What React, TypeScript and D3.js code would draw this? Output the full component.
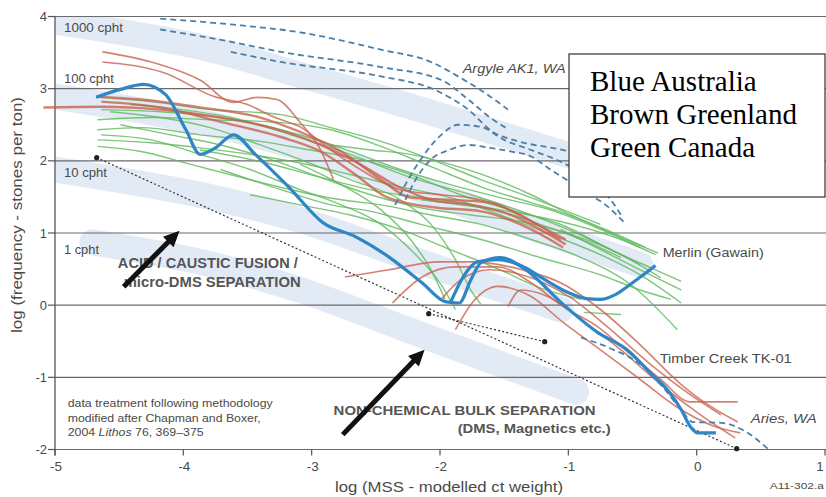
import React from 'react';
import * as d3 from 'd3';

type Pt = [number, number];

const W = 826;
const H = 497;

const xTicks = [-5, -4, -3, -2, -1, 0, 1];
const yTicks = [-2, -1, 0, 1, 2, 3, 4];

// Australia (blue, solid)
const australiaMain: Pt[] = [
  [-4.68, 2.88], [-4.49, 2.99], [-4.31, 3.06], [-4.14, 2.92], [-3.98, 2.43], [-3.87, 2.09],
  [-3.75, 2.18], [-3.61, 2.36], [-3.44, 2.09], [-3.18, 1.64], [-2.91, 1.14], [-2.66, 0.95],
  [-2.40, 0.67], [-2.14, 0.31], [-1.96, 0.05], [-1.85, 0.03], [-1.76, 0.35], [-1.68, 0.59],
  [-1.53, 0.66], [-1.33, 0.49], [-1.04, 0.01], [-0.77, -0.38], [-0.54, -0.62], [-0.36, -0.94],
  [-0.23, -1.17], [-0.12, -1.45], [-0.05, -1.68], [0.01, -1.77], [0.15, -1.77],
];
const australiaMerlin: Pt[] = [
  [-1.92, 0.03], [-1.82, 0.39], [-1.71, 0.60], [-1.55, 0.63], [-1.37, 0.55], [-1.18, 0.35],
  [-1.02, 0.19], [-0.86, 0.09], [-0.75, 0.08], [-0.63, 0.15], [-0.50, 0.31], [-0.32, 0.55],
];

// Australia (blue, dashed): Argyle AK1 and Aries
const argyleDashed: Pt[][] = [
  [[-4.18, 3.97], [-3.63, 3.89], [-3.09, 3.78], [-2.46, 3.54], [-2.07, 3.37], [-1.84, 3.15], [-1.64, 2.93], [-1.47, 2.71]],
  [[-4.18, 3.82], [-3.63, 3.65], [-3.24, 3.51], [-2.46, 3.30], [-1.99, 3.12], [-1.78, 2.85], [-1.61, 2.60], [-1.49, 2.46]],
  [[-3.63, 3.51], [-3.24, 3.37], [-2.46, 3.17], [-2.05, 2.99], [-1.78, 2.71], [-1.58, 2.39], [-1.43, 2.29], [-1.04, 2.15], [-0.75, 2.02], [-0.59, 1.92]],
  [[-2.35, 1.39], [-2.27, 1.67], [-2.15, 2.02], [-1.99, 2.36], [-1.86, 2.50], [-1.68, 2.47], [-1.50, 2.29], [-1.29, 2.15], [-1.04, 1.97], [-0.83, 1.74], [-0.67, 1.46], [-0.59, 1.25]],
  [[-2.27, 1.46], [-2.19, 1.74], [-2.07, 2.02], [-1.93, 2.15], [-1.78, 2.22], [-1.61, 2.18], [-1.45, 2.13], [-1.29, 2.06], [-1.14, 1.88], [-0.98, 1.70], [-0.83, 1.53], [-0.71, 1.39], [-0.55, 1.12]],
];
const ariesDashed: Pt[] = [
  [-0.90, -0.45], [-0.67, -0.60], [-0.44, -0.82], [-0.28, -1.10], [-0.12, -1.45], [-0.03, -1.62],
  [0.19, -1.63], [0.38, -1.75], [0.56, -2.0],
];

// Greenland (brown)
const greenland: Pt[][] = [
  [[-4.63, 3.51], [-4.25, 3.37], [-3.87, 3.12], [-3.61, 2.81], [-3.42, 2.88], [-3.27, 2.85], [-3.09, 2.53], [-2.93, 2.15], [-2.83, 1.74]],
  [[-4.63, 3.37], [-4.15, 3.22], [-3.76, 2.89], [-3.50, 2.78], [-3.30, 2.61], [-3.09, 2.47], [-2.85, 2.15], [-2.62, 1.88], [-2.31, 1.60], [-1.99, 1.53], [-1.68, 1.46], [-1.37, 1.25], [-1.06, 0.91]],
  [[-5.09, 2.74], [-4.64, 2.75], [-4.18, 2.71], [-3.71, 2.60], [-3.32, 2.46], [-2.93, 2.22], [-2.62, 1.95], [-2.31, 1.63], [-2.07, 1.46], [-1.76, 1.39], [-1.45, 1.25], [-1.22, 1.05], [-1.02, 0.84]],
  [[-4.68, 2.89], [-4.33, 2.85], [-3.87, 2.74], [-3.40, 2.60], [-3.09, 2.40], [-2.77, 2.13], [-2.46, 1.74], [-2.23, 1.49], [-1.92, 1.46], [-1.61, 1.42], [-1.29, 1.16], [-1.02, 0.91]],
  [[-4.64, 2.82], [-4.18, 2.74], [-3.71, 2.54], [-3.24, 2.33], [-2.93, 2.13], [-2.66, 1.81], [-2.42, 1.50], [-2.07, 1.36], [-1.68, 1.30], [-1.29, 1.05], [-1.04, 0.80]],
  [[-2.74, 0.39], [-2.40, 0.49], [-2.01, 0.60], [-1.75, 0.60], [-1.36, 0.49], [-1.06, 0.31], [-0.75, -0.06], [-0.44, -0.55], [-0.12, -1.10], [0.03, -1.31], [0.32, -1.62]],
  [[-2.37, 0.03], [-2.14, 0.39], [-1.88, 0.53], [-1.55, 0.53], [-1.29, 0.31], [-1.04, -0.02], [-0.77, -0.30], [-0.51, -0.69], [-0.28, -1.03], [-0.05, -1.34], [0.32, -1.34]],
  [[-1.88, -0.34], [-1.75, 0.03], [-1.55, 0.26], [-1.29, 0.12], [-1.04, -0.24], [-0.75, -0.62], [-0.44, -1.03], [-0.12, -1.45], [0.11, -1.66], [0.34, -1.77]],
  [[-1.47, -0.02], [-1.37, 0.21], [-1.16, 0.12], [-0.90, -0.20], [-0.59, -0.62], [-0.28, -1.10], [0.03, -1.52], [0.30, -1.84]],
  [[-1.99, 0.08], [-1.84, 0.35], [-1.61, 0.49], [-1.29, 0.38], [-0.98, 0.10], [-0.67, -0.34], [-0.36, -0.82], [-0.05, -1.24], [0.19, -1.52]],
];

// Canada (green)
const canada: Pt[][] = [
  [[-4.67, 2.88], [-4.25, 2.82], [-3.79, 2.71], [-3.24, 2.64], [-2.85, 2.46], [-2.46, 2.27], [-2.07, 2.02], [-1.68, 1.74], [-1.29, 1.49], [-1.04, 1.32], [-0.75, 1.12]],
  [[-4.67, 2.57], [-4.25, 2.60], [-3.79, 2.57], [-3.24, 2.53], [-2.85, 2.43], [-2.46, 2.20], [-2.07, 1.92], [-1.68, 1.64], [-1.29, 1.42], [-1.04, 1.28], [-0.59, 0.94], [-0.30, 0.72]],
  [[-4.67, 2.43], [-4.33, 2.46], [-3.87, 2.36], [-3.40, 2.27], [-3.01, 2.15], [-2.62, 2.02], [-2.23, 1.81], [-1.84, 1.53], [-1.45, 1.32], [-1.06, 1.12], [-0.67, 0.77], [-0.36, 0.52], [-0.12, 0.33]],
  [[-4.67, 2.29], [-4.25, 2.25], [-3.87, 2.18], [-3.48, 2.09], [-3.09, 1.97], [-2.70, 1.81], [-2.31, 1.64], [-1.92, 1.49], [-1.53, 1.25], [-1.14, 0.98], [-0.75, 0.70], [-0.44, 0.42], [-0.12, 0.03]],
  [[-4.67, 2.20], [-4.33, 2.13], [-3.94, 1.95], [-3.55, 1.77], [-3.16, 1.60], [-2.77, 1.46], [-2.46, 1.39], [-2.07, 1.25], [-1.68, 1.12], [-1.29, 0.91], [-0.90, 0.66], [-0.51, 0.28], [-0.15, -0.34]],
  [[-4.57, 2.68], [-4.18, 2.60], [-3.79, 2.46], [-3.40, 2.22], [-3.09, 2.02], [-2.70, 1.74], [-2.31, 1.46], [-2.07, 1.12], [-1.88, 0.63], [-1.76, 0.21], [-1.68, 0.01]],
  [[-4.64, 2.36], [-4.25, 2.29], [-3.87, 2.09], [-3.48, 1.88], [-3.09, 1.60], [-2.77, 1.39], [-2.46, 1.12], [-2.23, 0.77], [-1.99, 0.28], [-1.88, -0.06]],
  [[-4.49, 2.50], [-4.10, 2.36], [-3.71, 2.22], [-3.32, 2.02], [-2.93, 1.77], [-2.54, 1.53], [-2.15, 1.35], [-1.76, 1.25], [-1.37, 1.16], [-0.98, 0.98], [-0.59, 0.70], [-0.28, 0.38]],
  [[-4.64, 2.71], [-4.18, 2.68], [-3.71, 2.60], [-3.24, 2.43], [-2.77, 2.18], [-2.31, 1.88], [-1.92, 1.67], [-1.53, 1.49], [-1.14, 1.32], [-0.75, 1.05], [-0.44, 0.80]],
  [[-4.41, 2.78], [-4.02, 2.71], [-3.63, 2.60], [-3.16, 2.36], [-2.70, 2.09], [-2.23, 1.77], [-1.76, 1.53], [-1.29, 1.25], [-0.83, 0.91], [-0.44, 0.56]],
  [[-3.87, 2.15], [-3.40, 1.99], [-2.93, 1.77], [-2.46, 1.57], [-1.99, 1.46], [-1.53, 1.32], [-1.06, 1.16], [-0.59, 0.91], [-0.32, 0.70]],
  [[-3.71, 1.88], [-3.24, 1.60], [-2.85, 1.39], [-2.54, 1.30], [-2.15, 1.12], [-1.68, 0.91], [-1.22, 0.66], [-0.75, 0.42], [-0.44, 0.21], [-0.20, 0.08]],
  [[-3.48, 1.53], [-3.09, 1.39], [-2.70, 1.25], [-2.31, 1.05], [-1.92, 0.77], [-1.53, 0.49], [-1.22, 0.24], [-0.90, 0.08]],
  [[-3.09, 1.95], [-2.77, 1.67], [-2.46, 1.32], [-2.23, 0.91], [-2.07, 0.49], [-1.96, 0.08]],
  [[-1.06, 1.05], [-0.75, 0.77], [-0.44, 0.49], [-0.12, 0.21]],
  [[-0.88, -0.10], [-0.59, -0.13]],
  [[-2.15, 1.46], [-1.84, 1.39], [-1.53, 1.30], [-1.22, 1.12], [-0.90, 0.91], [-0.59, 0.66]],
  [[-2.85, 2.22], [-2.54, 2.15], [-2.23, 2.09], [-1.92, 1.95], [-1.61, 1.77], [-1.29, 1.53], [-0.98, 1.25], [-0.67, 1.02], [-0.40, 0.80]],
];

// Grade bands (cpht), centre lines
const gradeBands: Pt[][] = [
  [[-5.0, 3.93], [-3.87, 3.58], [-3.09, 3.19], [-2.15, 2.71], [-0.59, 1.85]],
  [[-5.0, 2.89], [-3.87, 2.54], [-3.09, 2.18], [-2.15, 1.60], [-0.44, 0.56]],
  [[-5.0, 1.88], [-3.87, 1.53], [-3.09, 1.18], [-2.15, 0.60], [-1.06, -0.06]],
  [[-4.71, 0.87], [-3.87, 0.60], [-3.09, 0.21], [-2.15, -0.41], [-0.94, -1.20]],
];
const gradeLabels = ['1000 cpht', '100 cpht', '10 cpht', '1 cpht'];
const gradeLabelY = [3.78, 3.08, 1.77, 0.71];
const gradeLabelW = [59, 50, 43, 35];

// Dotted separation trend lines
const trendLines: Pt[][] = [
  [[-4.675, 2.044], [0.312, -1.988]],
  [[-2.088, -0.118], [-1.184, -0.506]],
];

// Arrows (tail -> tip)
const arrows: [Pt, Pt][] = [
  [[-4.465, 0.256], [-4.029, 1.032]],
  [[-2.758, -1.794], [-2.12, -0.617]],
];

const legendLines = ['Blue Australia', 'Brown Greenland', 'Green Canada'];

export default function App() {
  const x = d3.scaleLinear().domain([-5, 1]).range([55, 825]);
  const y = d3.scaleLinear().domain([-2, 4]).range([449.5, 16.5]);
  const line = d3
    .line<Pt>()
    .x((d) => x(d[0]))
    .y((d) => y(d[1]))
    .curve(d3.curveMonotoneX);
  const smooth = d3
    .line<Pt>()
    .x((d) => x(d[0]))
    .y((d) => y(d[1]))
    .curve(d3.curveCatmullRom.alpha(0.5));
  const straight = d3
    .line<Pt>()
    .x((d) => x(d[0]))
    .y((d) => y(d[1]));

  const sans = "'Liberation Sans', Arial, sans-serif";
  const txt = '#4a4a4a';

  const arrowShapes = arrows.map(([s, t]) => {
    const sx = x(s[0]), sy = y(s[1]), tx = x(t[0]), ty = y(t[1]);
    const len = Math.hypot(tx - sx, ty - sy);
    const ux = (tx - sx) / len, uy = (ty - sy) / len;
    const nx = -uy, ny = ux;
    const hl = 16, hw = 7.5;
    const bx = tx - ux * hl, by = ty - uy * hl;
    return {
      sx, sy, bx: tx - ux * (hl - 2), by: ty - uy * (hl - 2),
      head: `${tx},${ty} ${bx + nx * hw},${by + ny * hw} ${bx - nx * hw},${by - ny * hw}`,
    };
  });

  return (
    <svg
      width={W}
      height={H}
      style={{ position: 'absolute', left: 0, top: 0, background: '#fff' }}
      fontFamily={sans}
    >
      <defs>
        <clipPath id="plot">
          <rect x={x(-5)} y={y(4)} width={W - x(-5)} height={y(-2) - y(4)} />
        </clipPath>
      </defs>
      <rect width={W} height={H} fill="#fff" />

      {/* grade bands */}
      <g clipPath="url(#plot)">
        {gradeBands.map((b, i) => (
          <path key={i} d={smooth(b) || ''} fill="none" stroke="#e2ebf5" strokeWidth={26} strokeLinecap="round" />
        ))}
      </g>

      {/* gridlines and axes */}
      {yTicks.map((t) => (
        <g key={t}>
          <line x1={x(-5)} x2={W} y1={y(t)} y2={y(t)} stroke="#6a6a6a" strokeWidth={1.2} />
          <line x1={x(-5) - 7} x2={x(-5)} y1={y(t)} y2={y(t)} stroke="#555" strokeWidth={1.2} />
          <text x={47} y={y(t) + 4.5} textAnchor="end" fontSize={13} fill={txt}>
            {t}
          </text>
        </g>
      ))}
      <line x1={x(-5)} x2={x(-5)} y1={y(4)} y2={y(-2) + 6} stroke="#555" strokeWidth={1.3} />
      {xTicks.map((t) => (
        <g key={t}>
          <line x1={x(t)} x2={x(t)} y1={y(-2)} y2={y(-2) + 6} stroke="#555" strokeWidth={1.2} />
          <text x={Math.min(x(t) + 1, W - 6)} y={471} textAnchor="middle" fontSize={13.5} fill={txt}>
            {t}
          </text>
        </g>
      ))}
      <text
        transform={`translate(22,${215}) rotate(-90)`}
        textAnchor="middle"
        fontSize={14.5}
        fill={txt}
        textLength={236}
        lengthAdjust="spacingAndGlyphs"
      >
        log (frequency - stones per ton)
      </text>
      <text x={449} y={492} textAnchor="middle" fontSize={15} fill={txt} textLength={228} lengthAdjust="spacingAndGlyphs">
        log (MSS - modelled ct weight)
      </text>
      <text x={x(0.57)} y={489} fontSize={9} fill={txt} textLength={54} lengthAdjust="spacingAndGlyphs">
        A11-302.a
      </text>

      {/* dotted trend lines */}
      {trendLines.map((l, i) => (
        <g key={i}>
          <path d={straight(l) || ''} fill="none" stroke="#333" strokeWidth={1.2} strokeDasharray="2,2.2" />
          {l.map((p, j) => (
            <circle key={j} cx={x(p[0])} cy={y(p[1])} r={2.6} fill="#222" />
          ))}
        </g>
      ))}

      {/* Canada */}
      {canada.map((s, i) => (
        <path key={i} d={line(s) || ''} fill="none" stroke="#5cb85a" strokeOpacity={0.8} strokeWidth={1.4} />
      ))}

      {/* Greenland */}
      {greenland.map((s, i) => (
        <path
          key={i}
          d={line(s) || ''}
          fill="none"
          stroke="#c85f4c"
          strokeOpacity={0.78}
          strokeWidth={i >= 2 && i <= 4 ? 2.4 : 1.6}
        />
      ))}

      {/* Australia, dashed */}
      {argyleDashed.map((s, i) => (
        <path key={i} d={line(s) || ''} fill="none" stroke="#4d7fa6" strokeWidth={1.8} strokeDasharray="6,4" />
      ))}
      <path d={line(ariesDashed) || ''} fill="none" stroke="#4d7fa6" strokeWidth={1.8} strokeDasharray="6,4" />

      {/* Australia, solid */}
      <path d={line(australiaMain) || ''} fill="none" stroke="#2f86c6" strokeWidth={3.2} strokeLinejoin="round" />
      <path d={line(australiaMerlin) || ''} fill="none" stroke="#2f86c6" strokeWidth={3.2} strokeLinejoin="round" />

      {/* grade labels */}
      {gradeLabels.map((g, i) => (
        <text key={g} x={x(-4.93)} y={y(gradeLabelY[i])} fontSize={12} fill={txt} textLength={gradeLabelW[i]} lengthAdjust="spacingAndGlyphs">
          {g}
        </text>
      ))}

      {/* annotations */}
      <text x={x(-4.51)} y={y(0.52)} fontSize={14} fontWeight="bold" fill="#555" textLength={180} lengthAdjust="spacingAndGlyphs">
        ACID / CAUSTIC FUSION /
      </text>
      <text x={x(-4.465)} y={y(0.256)} fontSize={14} fontWeight="bold" fill="#555" textLength={177} lengthAdjust="spacingAndGlyphs">
        micro-DMS SEPARATION
      </text>
      <text x={x(-2.829)} y={y(-1.517)} fontSize={13} fontWeight="bold" fill="#555" textLength={262} lengthAdjust="spacingAndGlyphs">
        NON-CHEMICAL BULK SEPARATION
      </text>
      <text x={x(-0.67)} y={y(-1.767)} fontSize={13} fontWeight="bold" fill="#555" textAnchor="end" textLength={153} lengthAdjust="spacingAndGlyphs">
        (DMS, Magnetics etc.)
      </text>
      <text x={x(-4.901)} y={y(-1.406)} fontSize={10.5} fill={txt} textLength={205} lengthAdjust="spacingAndGlyphs">
        data treatment following methodology
      </text>
      <text x={x(-4.901)} y={y(-1.614)} fontSize={10.5} fill={txt} textLength={193} lengthAdjust="spacingAndGlyphs">
        modified after Chapman and Boxer,
      </text>
      <text x={x(-4.901)} y={y(-1.808)} fontSize={10.5} fill={txt} textLength={136} lengthAdjust="spacingAndGlyphs">
        2004 <tspan fontStyle="italic">Lithos</tspan> 76, 369–375
      </text>
      <text x={x(-1.823)} y={y(3.222)} fontSize={12.5} fontStyle="italic" fill={txt} textLength={103} lengthAdjust="spacingAndGlyphs">
        Argyle AK1, WA
      </text>
      <text x={x(-0.265)} y={y(0.672)} fontSize={12.5} fill={txt} textLength={101} lengthAdjust="spacingAndGlyphs">
        Merlin (Gawain)
      </text>
      <text x={x(-0.288)} y={y(-0.797)} fontSize={12.5} fill={txt} textLength={132} lengthAdjust="spacingAndGlyphs">
        Timber Creek TK-01
      </text>
      <text x={x(0.421)} y={y(-1.628)} fontSize={12.5} fontStyle="italic" fill={txt} textLength={66} lengthAdjust="spacingAndGlyphs">
        Aries, WA
      </text>

      {/* arrows */}
      {arrowShapes.map((a, i) => (
        <g key={i}>
          <line x1={a.sx} y1={a.sy} x2={a.bx} y2={a.by} stroke="#111" strokeWidth={5} />
          <polygon points={a.head} fill="#111" />
        </g>
      ))}

      {/* legend */}
      <rect x={569} y={54} width={256} height={143} fill="#fff" stroke="#333" strokeWidth={1.2} />
      {legendLines.map((l, i) => (
        <text key={l} x={590} y={91 + i * 33} fontSize={29} fontFamily="'Liberation Serif', 'Times New Roman', serif" fill="#000">
          {l}
        </text>
      ))}
    </svg>
  );
}
